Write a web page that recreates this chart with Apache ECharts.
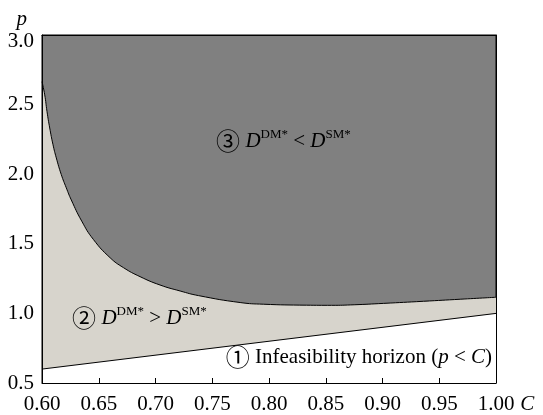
<!DOCTYPE html>
<html><head><meta charset="utf-8">
<script src="https://cdn.jsdelivr.net/npm/echarts@6/dist/echarts.min.js"></script>
<style>html,body{margin:0;padding:0;background:#fff}#c{width:543px;height:415px}</style>
</head><body><div id="c"></div>
<script>
// Upper boundary (between region 2 and region 3)
const upperC = [0.600, 0.6024, 0.6044, 0.6068, 0.6097, 0.6126, 0.617, 0.6214, 0.6258, 0.635, 0.6452, 0.660, 0.6717, 0.6864, 0.704, 0.7217, 0.7378, 0.7746, 0.795, 0.833, 0.855, 0.875, 0.901, 0.936, 0.969, 1.000];
const upperP = [2.665, 2.570, 2.451, 2.332, 2.212, 2.117, 1.997, 1.902, 1.815, 1.663, 1.532, 1.400, 1.329, 1.264, 1.204, 1.161, 1.128, 1.078, 1.066, 1.059, 1.058, 1.062, 1.072, 1.087, 1.102, 1.116];
// Infeasibility horizon p = C
const lowerC = [0.60, 1.00];
const lowerP = [0.60, 1.00];
const xTicks = ['0.60','0.65','0.70','0.75','0.80','0.85','0.90','0.95','1.00'];
const yTicks = ['0.5','1.0','1.5','2.0','2.5','3.0'];

const FONT = "'Liberation Serif','Times New Roman',serif";
const CIRC = "'Noto Sans CJK JP','Noto Sans CJK SC',sans-serif";
const zip = (a, b) => a.map((v, i) => [v, b[i]]);

const chart = echarts.init(document.getElementById('c'), null, {renderer: 'canvas'});
const axisCommon = {
  type: 'value', splitLine: {show: false}, z: 10,
  axisLine: {show: true, onZero: false, lineStyle: {color: '#000', width: 1}}
};
const richStyles = {
  n: {fontSize: 21, fontFamily: FONT, color: '#000', lineHeight: 26},
  c: {fontSize: 24, fontFamily: CIRC, color: '#000', lineHeight: 26},
  i: {fontSize: 21, fontFamily: FONT, fontStyle: 'italic', color: '#000', lineHeight: 26},
  s: {fontSize: 13, fontFamily: FONT, color: '#000', lineHeight: 26, verticalAlign: 'top', padding: [0,0,9,0]}
};
chart.setOption({
  animation: false,
  grid: {left: 42, right: 47, top: 35, bottom: 31, show: true, backgroundColor: '#808080', borderColor: '#000', borderWidth: 1},
  xAxis: [
    Object.assign({}, axisCommon, {
      min: 0.6, max: 1.0, interval: 0.05, position: 'bottom',
      name: 'C', nameLocation: 'end', nameGap: 22,
      nameTextStyle: {fontFamily: FONT, fontStyle: 'italic', fontSize: 21, color: '#000', verticalAlign: 'top', padding: [11,0,0,0]},
      axisTick: {show: true, inside: true, length: 5, lineStyle: {color: '#000'}},
      axisLabel: {margin: 11, fontFamily: FONT, fontSize: 21, color: '#000',
        formatter: v => xTicks.find(t => Math.abs(parseFloat(t) - v) < 1e-6) || ''}
    }),
    Object.assign({}, axisCommon, {
      min: 0.6, max: 1.0, position: 'top', axisTick: {show: false}, axisLabel: {show: false}
    })
  ],
  yAxis: [
    Object.assign({}, axisCommon, {
      min: 0.5, max: 3.0, interval: 0.5, position: 'left',
      name: 'p', nameLocation: 'end', nameGap: 5,
      nameTextStyle: {fontFamily: FONT, fontStyle: 'italic', fontSize: 21, color: '#000', align: 'right', padding: [0,15,0,0]},
      axisTick: {show: false},
      axisLabel: {margin: 8, fontFamily: FONT, fontSize: 21, color: '#000',
        rich: {t: {fontFamily: FONT, fontSize: 21, color: '#000', padding: [12,0,0,0]}},
        formatter: v => {
          const t = yTicks.find(t => Math.abs(parseFloat(t) - v) < 1e-6) || '';
          return Math.abs(v - 3.0) < 1e-6 ? '{t|' + t + '}' : t;
        }}
    }),
    Object.assign({}, axisCommon, {
      min: 0.5, max: 3.0, position: 'right', axisTick: {show: false}, axisLabel: {show: false}
    })
  ],
  series: [
    {
      type: 'line', data: zip(upperC, upperP), showSymbol: false, smooth: 0.5,
      lineStyle: {color: '#000', width: 1},
      areaStyle: {color: '#d7d4cc', opacity: 1, origin: 'start'}, z: 2
    },
    {
      type: 'line', data: zip(lowerC, lowerP), showSymbol: false,
      lineStyle: {color: '#000', width: 1},
      areaStyle: {color: '#ffffff', opacity: 1, origin: 'start'}, z: 3
    }
  ],
  graphic: [
    {type: 'text', left: 216, top: 128, z: 20, style: {
      text: '{c|③ }{i|D}{s|DM*}{n| < }{i|D}{s|SM*}', rich: richStyles}},
    {type: 'text', left: 72, top: 305, z: 20, style: {
      text: '{c|② }{i|D}{s|DM*}{n| > }{i|D}{s|SM*}', rich: richStyles}},
    {type: 'text', right: 51, top: 345, z: 20, style: {
      text: '{c|① }{n|Infeasibility horizon (}{i|p}{n| < }{i|C}{n|)}', rich: richStyles}}
  ]
});
</script></body></html>
